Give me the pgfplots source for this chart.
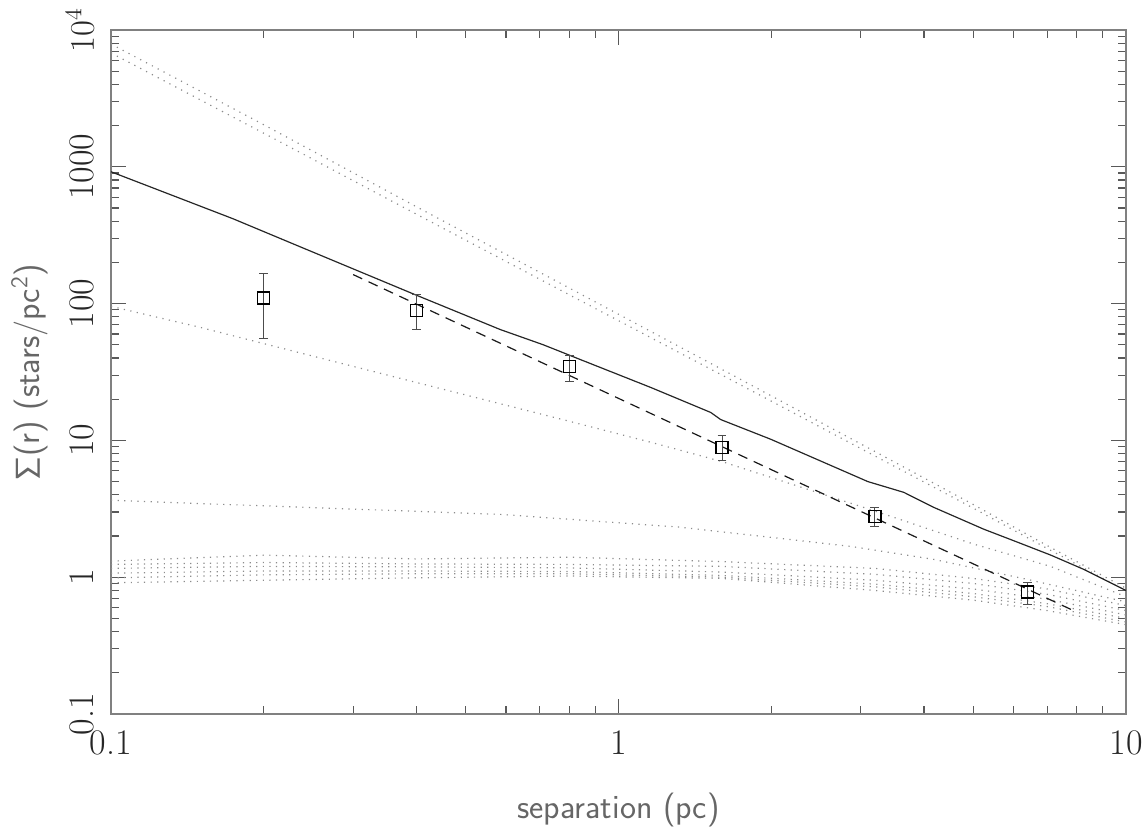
\documentclass[border=0pt]{standalone}
\usepackage{pgfplots}
\pgfplotsset{compat=1.18}
\pgfplotsset{
  dotline/.style={black!45, line width=0.6pt, dash pattern=on 0.6pt off 2.7pt, line cap=butt},
}
\begin{document}
\begin{tikzpicture}
\useasboundingbox (-55.5pt,-58pt) rectangle (516.5pt,357pt);
\begin{axis}[
  at={(0pt,0pt)}, anchor=south west,
  xmode=log, ymode=log,
  scale only axis, width=507.5pt, height=342pt,
  xmin=0.1, xmax=10, ymin=0.1, ymax=10000,
  axis line style={black!50, line width=0.6pt},
  tick align=inside, tick pos=both,
  major tick length=7.5pt, minor tick length=4pt,
  every tick/.style={black!65, line width=0.6pt},
  xtick={0.1,1,10}, xticklabels={0.1,1,10},
  ytick={0.1,1,10,100,1000,10000}, yticklabels={0.1,1,10,100,1000,$10^4$},
  minor xtick={0.2,0.3,0.4,0.5,0.6,0.7,0.8,0.9,2,3,4,5,6,7,8,9},
  minor ytick={0.2,0.3,0.4,0.5,0.6,0.7,0.8,0.9,2,3,4,5,6,7,8,9,20,30,40,50,60,70,80,90,200,300,400,500,600,700,800,900,2000,3000,4000,5000,6000,7000,8000,9000},
  tick label style={font=\fontsize{18}{20}\selectfont, black!85},
  yticklabel style={rotate=90, anchor=south},
  xticklabel shift=5pt, yticklabel shift=5pt,
  xlabel={separation (pc)},
  ylabel={$\mathsf{\Sigma}$(r) (stars/pc$^{\mathsf{2}}$)},
  label style={font=\sffamily\fontsize{17}{20}\selectfont, black!60},
  xlabel style={at={(axis description cs:0.5,-0.1404)}, anchor=center},
  ylabel style={at={(axis description cs:-0.0798,0.5)}, anchor=center},
  clip=true,
]
% steep model pair
\addplot[dotline] coordinates {(0.1,7900) (0.2,2030) (0.4,510) (0.8,130) (1.6,33) (3.2,8.3) (5,3.4) (7,1.7) (8.5,1.15) (10,0.83)};
\addplot[dotline] coordinates {(0.1,6800) (0.2,1760) (0.4,450) (0.8,116) (1.6,30) (3.2,7.7) (5,3.2) (7,1.62) (8.5,1.1) (10,0.80)};
% intermediate models
\addplot[dotline] coordinates {(0.1,95.5) (0.15,67) (0.2,51) (0.4,26.5) (0.8,13.8) (1.157,9.7) (1.6,7.0) (3.24,3.0) (5,1.75) (7.1,1.2) (10,0.72)};
\addplot[dotline] coordinates {(0.1,3.65) (0.236,3.25) (0.585,2.88) (1.325,2.32) (2.87,1.68) (4.18,1.35) (6.5,0.95) (10,0.66)};
% flat models
\addplot[dotline] coordinates {(0.1,1.31) (0.2,1.45) (0.4,1.36) (0.8,1.40) (1.6,1.30) (3.2,1.16) (5,0.98) (7,0.82) (10,0.62)};
\addplot[dotline] coordinates {(0.1,1.24) (0.2,1.28) (0.4,1.25) (0.8,1.24) (1.6,1.20) (3.2,1.05) (5,0.90) (7,0.75) (10,0.57)};
\addplot[dotline] coordinates {(0.1,1.16) (0.2,1.20) (0.4,1.19) (0.8,1.17) (1.6,1.09) (3.2,0.95) (5,0.82) (7,0.69) (10,0.53)};
\addplot[dotline] coordinates {(0.1,1.07) (0.2,1.11) (0.4,1.11) (0.8,1.10) (1.6,1.03) (3.2,0.89) (5,0.76) (7,0.64) (10,0.50)};
\addplot[dotline] coordinates {(0.1,0.99) (0.2,1.04) (0.4,1.06) (0.8,1.06) (1.6,1.00) (3.2,0.85) (5,0.72) (7,0.61) (10,0.47)};
\addplot[dotline] coordinates {(0.1,0.91) (0.2,0.95) (0.4,0.99) (0.8,1.02) (1.6,0.98) (3.2,0.80) (5,0.68) (7,0.57) (10,0.45)};
% solid model
\addplot[black!85, line width=0.6pt] coordinates {(0.1,920) (0.174,417) (0.236,260) (0.398,116) (0.585,64.6) (0.711,50) (0.841,39) (1.157,24.4) (1.52,16) (1.59,14.2) (1.995,10.2) (2.54,6.9) (3.10,5.0) (3.65,4.17) (4.18,3.24) (5.25,2.24) (6.12,1.80) (7.11,1.45) (8.26,1.14) (10,0.80)};
% dashed power-law fit
\addplot[black!90, line width=0.6pt, dash pattern=on 5pt off 3.5pt] coordinates {(0.3,163) (7.8,0.58)};
% data
\addplot[black, line width=0.7pt, mark=square, mark size=3pt, only marks,
  error bars/.cd, y dir=both, y explicit,
  error bar style={black!70, line width=0.5pt},
  error mark options={rotate=90, mark size=2.2pt, black!70, line width=0.5pt}]
  table[x=x, y=y, y error plus=ep, y error minus=em] {
  x    y     ep    em
  0.2  110   55    54.4
  0.4  89    27    24.4
  0.8  34.7  7     7.7
  1.6  8.9   2.0   1.8
  3.2  2.79  0.46  0.43
  6.4  0.78  0.14  0.145
};
\end{axis}
\end{tikzpicture}
\end{document}
